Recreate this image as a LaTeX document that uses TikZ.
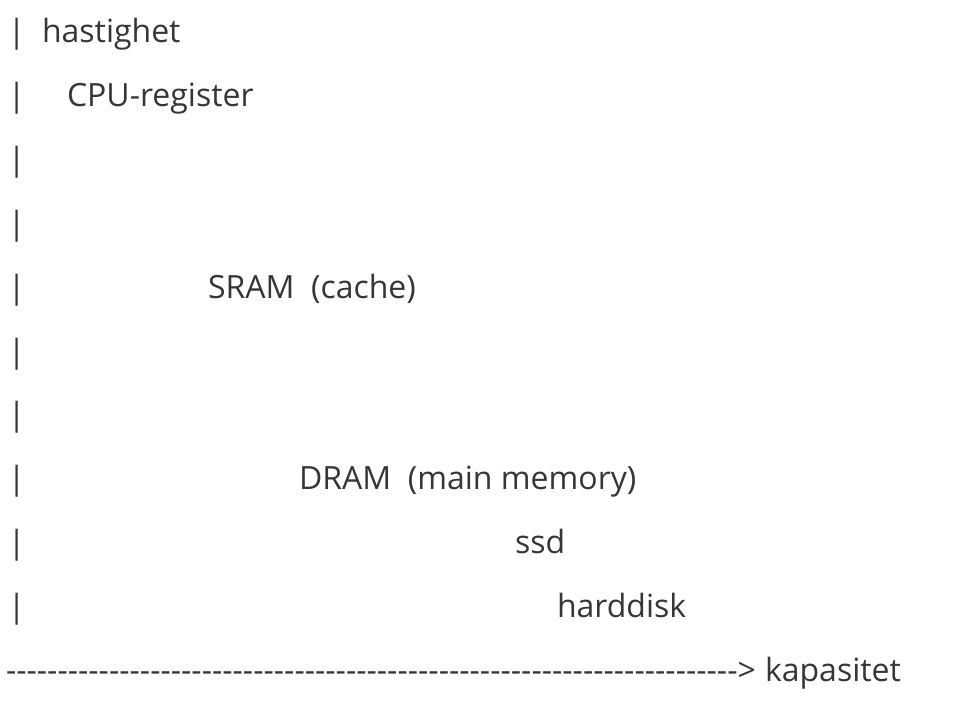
\documentclass[tikz,border=0pt]{standalone}
\usepackage{fontspec}
\setmainfont{Open Sans}
\definecolor{ink}{HTML}{363636}
\begin{document}
\begin{tikzpicture}[x=1pt,y=1pt,
  txt/.style={inner sep=0pt, outer sep=0pt, anchor=base west, text=ink, font=\fontsize{32}{38}\selectfont}]
\useasboundingbox[fill=white] (0,0) rectangle (962,-710);
% vertical axis bars
\foreach \i in {0,...,9} {
  \node[txt] (bar\i) at (8,-42.5-63.9*\i) {|};
}
\node[txt] (hast) at (42,-42.5) {hastighet};
\node[txt] (cpu) at (67,-106.4) {CPU-register};
\node[txt] (sram) at (208,-298.1) {SRAM\ \ (cache)};
\node[txt] (dram) at (299,-489.8) {DRAM\ \ (main memory)};
\node[txt] (ssd) at (515,-553.7) {ssd};
\node[txt] (hdd) at (557,-617.6) {harddisk};
\node[txt] (axis) at (6,-681.5) {-{}-{}-{}-{}-{}-{}-{}-{}-{}-{}-{}-{}-{}-{}-{}-{}-{}-{}-{}-{}-{}-{}-{}-{}-{}-{}-{}-{}-{}-{}-{}-{}-{}-{}-{}-{}-{}-{}-{}-{}-{}-{}-{}-{}-{}-{}-{}-{}-{}-{}-{}-{}-{}-{}-{}-{}-{}-{}-{}-{}-{}-{}-{}-{}-{}-{}-{}-{}-{}-{}-{}>};
\node[txt] (kap) at (765,-681.5) {kapasitet};
\end{tikzpicture}
\end{document}
